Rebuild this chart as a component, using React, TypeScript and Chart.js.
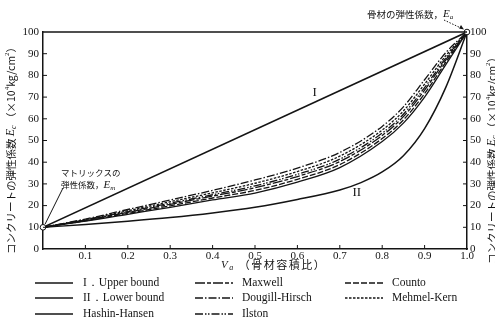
import React, { useEffect, useRef } from 'react';
import { Chart, registerables } from 'chart.js';

Chart.register(...registerables);

// ---- data ----
const boundV = [0, 1.0];
const upperBound = [10, 100];

const lowerV = [0, 0.1, 0.2, 0.3, 0.4, 0.5, 0.6, 0.7, 0.75, 0.8, 0.85, 0.9, 0.95, 1.0];
const lowerBound = [10, 11.3, 12.8, 14.5, 16.6, 19.2, 22.8, 27.2, 30.6, 35.5, 43.0, 55.5, 74.5, 100];

const modelV = [0, 0.1, 0.2, 0.3, 0.4, 0.5, 0.6, 0.7, 0.8, 0.85, 0.9, 0.95, 1.0];
const hashinHansen = [10, 12.8, 16.0, 19.2, 22.6, 25.8, 30.8, 37.5, 49.5, 58.0, 70.0, 85.0, 100];
const counto = [10, 13.0, 16.4, 19.9, 23.5, 27.0, 32.1, 38.9, 50.9, 59.5, 71.6, 86.1, 100];
const maxwell = [10, 13.2, 16.9, 20.6, 24.4, 28.2, 33.4, 40.3, 52.3, 61.0, 73.2, 87.2, 100];
const ilston = [10, 13.35, 17.2, 21.1, 25.0, 29.1, 34.4, 41.4, 53.4, 62.1, 74.4, 88.0, 100];
const mehmelKern = [10, 13.55, 17.65, 21.8, 25.9, 30.3, 35.7, 42.8, 54.8, 63.6, 76.0, 89.1, 100];
const dougillHirsch = [10, 13.8, 18.2, 22.6, 27.0, 31.8, 37.3, 44.5, 56.5, 65.5, 78.0, 90.5, 100];

const matrixPoint = { x: 0, y: 10 };
const aggregatePoint = { x: 1.0, y: 100 };

const xTickValues = [0.1, 0.2, 0.3, 0.4, 0.5, 0.6, 0.7, 0.8, 0.9];
const yTickValues = [10, 20, 30, 40, 50, 60, 70, 80, 90];

const seriesNames = [
  'I．Upper bound',
  'II．Lower bound',
  'Hashin-Hansen',
  'Maxwell',
  'Dougill-Hirsch',
  'Ilston',
  'Counto',
  'Mehmel-Kern',
];

const INK = '#141414';
const SERIF = '"Liberation Serif", "DejaVu Serif", serif';
const CJK = '"Noto Sans CJK JP", "Noto Sans", sans-serif';

const zip = (xs: number[], ys: number[]) => xs.map((x, i) => ({ x, y: ys[i] }));

type Seg = { text: string; font: string; dy?: number };

function drawSegments(ctx: CanvasRenderingContext2D, x0: number, y0: number, segs: Seg[], align: 'left' | 'center', rotate = 0) {
  ctx.save();
  ctx.translate(x0, y0);
  if (rotate) ctx.rotate(rotate);
  ctx.textBaseline = 'middle';
  ctx.textAlign = 'left';
  let total = 0;
  segs.forEach((s) => {
    ctx.font = s.font;
    total += ctx.measureText(s.text).width;
  });
  let x = align === 'center' ? -total / 2 : 0;
  segs.forEach((s) => {
    ctx.font = s.font;
    ctx.fillText(s.text, x, s.dy || 0);
    x += ctx.measureText(s.text).width;
  });
  ctx.restore();
}

const yTitle: Seg[] = [
  { text: 'コンクリートの弾性係数 ', font: `10.5px ${CJK}` },
  { text: 'E', font: `italic 12px ${SERIF}` },
  { text: 'c', font: `italic 8px ${SERIF}`, dy: 3 },
  { text: ' （×10', font: `10.5px ${CJK}` },
  { text: '4', font: `7px ${SERIF}`, dy: -4 },
  { text: 'kg/cm', font: `10.5px ${CJK}` },
  { text: '2', font: `7px ${SERIF}`, dy: -4 },
  { text: '）', font: `10.5px ${CJK}` },
];

const decorPlugin = {
  id: 'decor',
  afterDraw(chart: any) {
    const { ctx, chartArea: a, scales } = chart;
    const xs = scales.x;
    const ys = scales.y;
    ctx.save();
    ctx.strokeStyle = INK;
    ctx.fillStyle = INK;

    // top frame line
    ctx.lineWidth = 1.5;
    ctx.beginPath();
    ctx.moveTo(a.left, a.top);
    ctx.lineTo(a.right, a.top);
    ctx.stroke();

    // inward tick marks
    ctx.lineWidth = 1;
    ctx.beginPath();
    xTickValues.forEach((v) => {
      const px = xs.getPixelForValue(v);
      ctx.moveTo(px, a.bottom);
      ctx.lineTo(px, a.bottom - 4);
    });
    yTickValues.forEach((v) => {
      const py = ys.getPixelForValue(v);
      ctx.moveTo(a.left, py);
      ctx.lineTo(a.left + 4, py);
      ctx.moveTo(a.right, py);
      ctx.lineTo(a.right - 4, py);
    });
    ctx.stroke();

    // axis titles
    drawSegments(ctx, 11, 148, yTitle, 'center', -Math.PI / 2);
    drawSegments(ctx, 492, 158, yTitle, 'center', -Math.PI / 2);
    ctx.save();
    (ctx as any).letterSpacing = '1.5px';
    drawSegments(ctx, 221, 265, [
      { text: 'V', font: `italic 11px ${SERIF}` },
      { text: 'a', font: `italic 8px ${SERIF}`, dy: 3 },
      { text: ' （骨材容積比）', font: `11px ${CJK}` },
    ], 'left');
    ctx.restore();

    // curve labels
    ctx.font = `13px ${SERIF}`;
    ctx.textAlign = 'center';
    ctx.textBaseline = 'middle';
    ctx.fillText('I', xs.getPixelForValue(0.641), ys.getPixelForValue(71.9));
    ctx.fillText('II', xs.getPixelForValue(0.74), ys.getPixelForValue(25.8));

    // matrix modulus annotation
    const mx = xs.getPixelForValue(matrixPoint.x);
    const my = ys.getPixelForValue(matrixPoint.y);
    drawSegments(ctx, 61, 173, [{ text: 'マトリックスの', font: `8.5px ${CJK}` }], 'left');
    drawSegments(ctx, 61, 185, [
      { text: '弾性係数，', font: `8.5px ${CJK}` },
      { text: 'E', font: `italic 11px ${SERIF}` },
      { text: 'm', font: `italic 7px ${SERIF}`, dy: 3 },
    ], 'left');
    ctx.lineWidth = 1;
    ctx.beginPath();
    ctx.moveTo(63, 188);
    ctx.lineTo(mx + 2, my - 3);
    ctx.stroke();

    // aggregate modulus annotation
    const ax = xs.getPixelForValue(aggregatePoint.x);
    const ay = ys.getPixelForValue(aggregatePoint.y);
    drawSegments(ctx, 367, 14, [
      { text: '骨材の弾性係数，', font: `9.5px ${CJK}` },
      { text: 'E', font: `italic 11px ${SERIF}` },
      { text: 'a', font: `italic 7px ${SERIF}`, dy: 3 },
    ], 'left');
    ctx.setLineDash([1.5, 1.5]);
    ctx.beginPath();
    ctx.moveTo(444, 20);
    ctx.lineTo(ax - 4, ay - 3);
    ctx.stroke();
    ctx.setLineDash([]);
    ctx.beginPath();
    ctx.moveTo(ax - 3, ay - 2.5);
    ctx.lineTo(ax - 8, ay - 3.5);
    ctx.lineTo(ax - 6, ay - 7);
    ctx.closePath();
    ctx.fill();

    // legend
    const cols = [
      { lx: 35, tx: 83 },
      { lx: 195, tx: 242 },
      { lx: 345, tx: 392 },
    ];
    const rows = [283, 298, 314];
    const layout = [
      [0, 0], [0, 1], [0, 2],
      [1, 0], [1, 1], [1, 2],
      [2, 0], [2, 1],
    ];
    const lineDatasets = chart.data.datasets.slice(1);
    layout.forEach(([c, r], i) => {
      const ds = lineDatasets[i];
      const y = rows[r];
      ctx.lineWidth = 1.3;
      ctx.setLineDash(ds.borderDash || []);
      ctx.beginPath();
      ctx.moveTo(cols[c].lx, y);
      ctx.lineTo(cols[c].lx + 38, y);
      ctx.stroke();
      ctx.setLineDash([]);
      ctx.font = `11.5px ${SERIF}`;
      ctx.textAlign = 'left';
      ctx.textBaseline = 'middle';
      ctx.fillText(ds.label, cols[c].tx, y);
    });
    ctx.restore();
  },
};

export default function App() {
  const ref = useRef<HTMLCanvasElement | null>(null);

  useEffect(() => {
    if (!ref.current) return;
    const lineBase = {
      type: 'line' as const,
      borderColor: INK,
      borderWidth: 1.3,
      pointRadius: 0,
      fill: false,
      cubicInterpolationMode: 'monotone' as const,
    };
    const chart = new Chart(ref.current, {
      type: 'line',
      data: {
        datasets: [
          {
            type: 'scatter',
            label: 'moduli',
            data: [matrixPoint, aggregatePoint],
            pointRadius: 2.8,
            pointBackgroundColor: '#ffffff',
            pointBorderColor: INK,
            pointBorderWidth: 1,
            showLine: false,
            clip: false,
          } as any,
          { ...lineBase, label: seriesNames[0], data: zip(boundV, upperBound), borderWidth: 1.6 },
          { ...lineBase, label: seriesNames[1], data: zip(lowerV, lowerBound), borderWidth: 1.5 },
          { ...lineBase, label: seriesNames[2], data: zip(modelV, hashinHansen) },
          { ...lineBase, label: seriesNames[3], data: zip(modelV, maxwell), borderDash: [10, 2, 4, 2] },
          { ...lineBase, label: seriesNames[4], data: zip(modelV, dougillHirsch), borderDash: [8, 2, 1.5, 2] },
          { ...lineBase, label: seriesNames[5], data: zip(modelV, ilston), borderDash: [8, 2, 1.5, 1.5, 1.5, 2] },
          { ...lineBase, label: seriesNames[6], data: zip(modelV, counto), borderDash: [6, 2] },
          { ...lineBase, label: seriesNames[7], data: zip(modelV, mehmelKern), borderDash: [2.5, 1.5] },
        ],
      },
      options: {
        animation: false,
        responsive: false,
        maintainAspectRatio: false,
        parsing: true,
        layout: { padding: { left: 0, right: 0, top: 32, bottom: 60 } },
        plugins: { legend: { display: false }, tooltip: { enabled: false } },
        scales: {
          x: {
            type: 'linear',
            position: 'bottom',
            min: 0,
            max: 1,
            grid: { display: false, drawTicks: false },
            border: { display: true, color: INK, width: 1.5 },
            ticks: {
              stepSize: 0.1,
              autoSkip: false,
              maxRotation: 0,
              padding: 1,
              color: INK,
              font: { family: SERIF, size: 11 },
              callback: (v: any) => (Math.abs(v) < 1e-9 ? '' : Number(v).toFixed(1)),
            },
            afterFit: (s: any) => { s.height = 16; },
          },
          y: {
            type: 'linear',
            position: 'left',
            min: 0,
            max: 100,
            grid: { display: false, drawTicks: false },
            border: { display: true, color: INK, width: 1.5 },
            ticks: { stepSize: 10, padding: 4, color: INK, font: { family: SERIF, size: 11 } },
            afterFit: (s: any) => { s.width = 43; },
          },
          y2: {
            type: 'linear',
            position: 'right',
            min: 0,
            max: 100,
            grid: { display: false, drawTicks: false },
            border: { display: true, color: INK, width: 1.5 },
            ticks: { stepSize: 10, padding: 3, color: INK, font: { family: SERIF, size: 11 } },
            afterFit: (s: any) => { s.width = 28; },
          },
        },
      },
      plugins: [decorPlugin],
    });
    return () => chart.destroy();
  }, []);

  return (
    <div style={{ position: 'fixed', left: 0, top: 0, width: 495, height: 325, background: '#fff' }}>
      <canvas ref={ref} width={495} height={325} style={{ display: 'block', width: 495, height: 325 }} />
    </div>
  );
}
